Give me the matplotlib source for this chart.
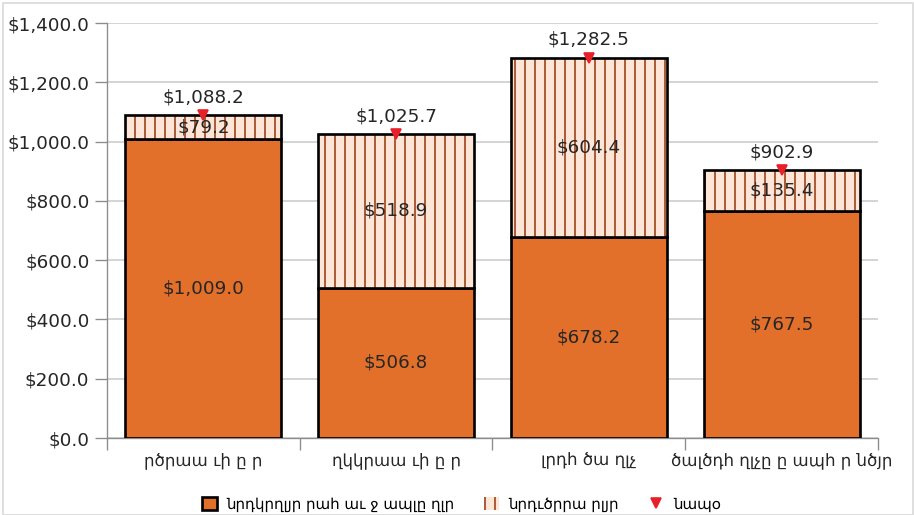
import matplotlib
matplotlib.use("Agg")
import matplotlib.pyplot as plt
import numpy as np
from matplotlib.patches import Rectangle

# data
categories = ["րծրաա ւի ը ր", "ղկկրաա ւի ը ր", "լրդհ ծա ղլչ", "ծալծդհ ղլչը ը ապհ ր նծյր"]
base_vals = [1009.0, 506.8, 678.2, 767.5]
top_vals = [79.2, 518.9, 604.4, 135.4]
totals = [1088.2, 1025.7, 1282.5, 902.9]
legend_labels = ["նրդկրղլյր րահ աւ ջ ապլը ղլր", "նրդւծրրա րլյր", "նապօ"]

orange = "#E2702A"
peach = "#FDE6D8"
hatch_brown = "#A5522A"
txt = "#262626"

plt.rcParams['font.family'] = ['DejaVu Sans']
plt.rcParams['hatch.linewidth'] = 1.1

dpi = 120
fig = plt.figure(figsize=(914 / dpi, 515 / dpi), dpi=dpi)
ax = fig.add_axes([0.117, 0.1495, 0.8436, 0.8058])

x = np.arange(len(categories))
w = 0.81

b1 = ax.bar(x, base_vals, width=w, color=orange, edgecolor="black", linewidth=1.6, zorder=3)
b2 = ax.bar(x, top_vals, width=w, bottom=base_vals, color=peach, edgecolor=hatch_brown,
            hatch="||", linewidth=0, zorder=3)
# black outline on top of the hatched segment
ax.bar(x, top_vals, width=w, bottom=base_vals, fill=False, edgecolor="black", linewidth=1.6, zorder=4)
tri, = ax.plot(x, totals, linestyle="none", marker="v", color="#E8202A", markersize=5.5, zorder=5)

for i in range(len(x)):
    ax.text(x[i], base_vals[i] / 2, "${:,.1f}".format(base_vals[i]), ha="center", va="center",
            fontsize=11, color=txt, zorder=6)
    ax.text(x[i], base_vals[i] + top_vals[i] / 2, "${:,.1f}".format(top_vals[i]), ha="center",
            va="center", fontsize=11, color=txt, zorder=6)
    ax.text(x[i], totals[i] + 30, "${:,.1f}".format(totals[i]), ha="center", va="bottom",
            fontsize=11, color=txt, zorder=6)

ax.set_xlim(-0.5, len(categories) - 0.5)
ax.set_ylim(0, 1400)
ax.set_yticks(np.arange(0, 1401, 200))
ax.set_yticklabels(["${:,.1f}".format(v) for v in np.arange(0, 1401, 200)], fontsize=11, color=txt)
ax.yaxis.grid(True, color="#C8C8C8", linewidth=0.9, zorder=0)

ax.set_xticks(np.arange(-0.5, len(categories)), minor=False)
ax.set_xticklabels([])
ax.set_xticks(x, minor=True)
ax.set_xticklabels(categories, minor=True, fontsize=10, color=txt)
ax.tick_params(axis="x", which="minor", length=0, pad=8)
ax.tick_params(axis="x", which="major", length=7, color="#8C8C8C")
ax.tick_params(axis="y", length=7, color="#8C8C8C")

for s in ["top", "right"]:
    ax.spines[s].set_visible(False)
for s in ["left", "bottom"]:
    ax.spines[s].set_color("#8C8C8C")

fig.legend([b1, b2, tri], legend_labels, loc="lower center", bbox_to_anchor=(0.505, -0.02),
           ncol=3, frameon=False, fontsize=9, handlelength=1.0, handleheight=1.0,
           columnspacing=2.0, handletextpad=0.6)

fig.patches.append(Rectangle((0.003, 0.0), 0.996, 0.994, transform=fig.transFigure,
                             fill=False, edgecolor="#D9D9D9", linewidth=1.0))

fig.savefig("out.png", dpi=dpi)
